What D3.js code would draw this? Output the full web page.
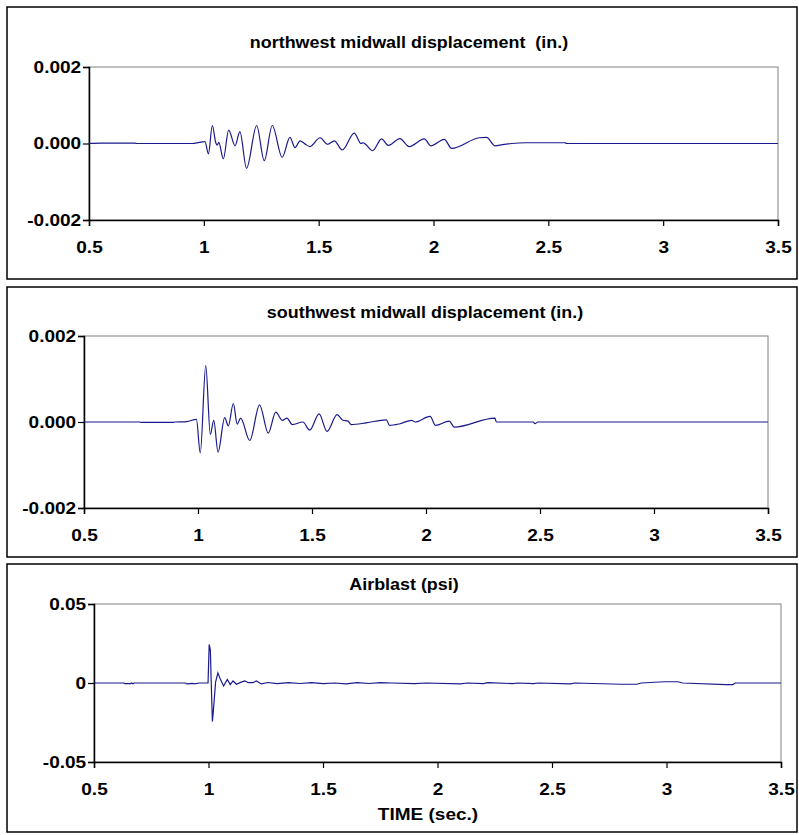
<!DOCTYPE html>
<html>
<head>
<meta charset="utf-8">
<script src="https://cdn.jsdelivr.net/npm/d3@7"></script>
<style>
  body { margin: 0; background: #fff; }
  text { font-family: "Liberation Sans", Arial, sans-serif; font-weight: bold; fill: #000; }
</style>
</head>
<body>
<svg id="chart" width="799" height="835"></svg>
<script>
// time axis shared by all three records
const timeTicks = [0.5, 1, 1.5, 2, 2.5, 3, 3.5];
const timeLabels = ["0.5", "1", "1.5", "2", "2.5", "3", "3.5"];

// northwest midwall displacement (in.)
const nwTime = [0.5, 0.55, 0.7, 0.71, 0.95, 0.98, 1.005, 1.02, 1.037, 1.052, 1.058, 1.065, 1.085, 1.108, 1.136, 1.157, 1.186, 1.23, 1.263, 1.298, 1.341, 1.375, 1.397, 1.419, 1.44, 1.462, 1.506, 1.539, 1.568, 1.603, 1.655, 1.684, 1.694, 1.704, 1.735, 1.774, 1.803, 1.854, 1.894, 1.96, 1.989, 2.047, 2.079, 2.2, 2.231, 2.268, 2.3, 2.34, 2.4, 2.572, 2.58, 3.5];
const nwDisp = [0, 0.00001, 0.00001, 0, 0, 0.00003, 0.00005, -0.00027, 0.00047, 0.00002, -0.00004, 0.00003, -0.0004, 0.00035, -0.00006, 0.00031, -0.00065, 0.00047, -0.00045, 0.00047, -0.00036, 0.00016, -0.00011, 0.00007, -0.00001, -0.00008, 0.00015, -0.00002, 0.00007, -0.00017, 0.00027, 0, 0.00002, -0.00002, -0.00019, 0.00012, -0.00005, 0.00013, -0.00008, 0.00012, -0.00006, 0.00011, -0.00013, 0.00015, 0.00016, -0.00006, -0.00003, 0, 0.00002, 0.00002, 0, 0];
const nwTicks = [-0.002, 0, 0.002];
const nwLabels = ["-0.002", "0.000", "0.002"];

// southwest midwall displacement (in.)
const swTime = [0.5, 0.744, 0.75, 0.89, 0.9, 0.95, 0.993, 1.01, 1.034, 1.054, 1.069, 1.088, 1.117, 1.133, 1.155, 1.172, 1.187, 1.227, 1.27, 1.308, 1.341, 1.37, 1.39, 1.414, 1.46, 1.49, 1.531, 1.566, 1.61, 1.636, 1.658, 1.672, 1.738, 1.826, 1.84, 1.886, 1.937, 1.952, 2.018, 2.042, 2.102, 2.124, 2.302, 2.309, 2.47, 2.478, 2.49, 3.5];
const swDisp = [0, 0, -0.00001, -0.00001, 0, 0.00001, 0.00006, -0.00072, 0.00131, -0.00029, 0.00004, -0.0007, 0.0001, -0.00009, 0.00043, -0.00005, 0.00009, -0.00043, 0.0004, -0.00026, 0.00023, 0.00004, 0.00009, -0.00006, 0, -0.00019, 0.00019, -0.00022, 0.00017, 0.00004, 0.00002, -0.00006, -0.00002, 0.00005, -0.00008, -0.00004, 0.00004, 0, 0.00013, -0.00008, 0.00002, -0.00012, 0.00009, 0, 0, -0.00004, 0, 0];
const swTicks = [-0.002, 0, 0.002];
const swLabels = ["-0.002", "0.000", "0.002"];

// airblast (psi)
const abTime = [0.5, 0.63, 0.635, 0.66, 0.665, 0.67, 0.675, 0.9, 0.905, 0.93, 0.94, 0.96, 0.998, 1.003, 1.008, 1.012, 1.017, 1.021, 1.031, 1.041, 1.052, 1.066, 1.082, 1.095, 1.107, 1.122, 1.14, 1.158, 1.175, 1.194, 1.209, 1.231, 1.26, 1.3, 1.35, 1.4, 1.45, 1.5, 1.55, 1.6, 1.65, 1.7, 1.75, 1.8, 1.9, 1.95, 2.1, 2.13, 2.2, 2.22, 2.33, 2.35, 2.42, 2.44, 2.58, 2.6, 2.8, 2.87, 2.89, 2.99, 3.05, 3.07, 3.26, 3.29, 3.3, 3.5];
const abPress = [0, 0, -0.0004, -0.0004, 0, -0.0005, 0, 0, -0.0006, -0.0003, -0.0006, 0, 0, 0.0244, 0.021, 0, -0.0244, -0.018, 0.0006, 0.0064, 0.0023, -0.0019, 0.0023, -0.001, 0.0013, -0.0008, 0.0004, 0.0013, 0.0002, 0.0002, 0.0013, -0.0006, 0.0003, -0.0004, 0.0002, -0.0003, 0.0002, -0.0004, 0, -0.0005, 0.0002, -0.0003, 0.0002, 0, -0.0004, 0, -0.0005, 0, -0.0004, 0.0002, -0.0004, 0, -0.0004, 0, -0.0006, 0, -0.0008, -0.0008, 0, 0.0008, 0.0008, 0, -0.001, -0.001, 0, 0];
const abTicks = [-0.05, 0, 0.05];
const abLabels = ["-0.05", "0", "0.05"];

const svg = d3.select("#chart");
const stretch = "scale(1.12,1)";   // text in the original is drawn a bit wide

// panel layout: frame box, plot area, text positions
const panels = [
  { title: "northwest midwall displacement  (in.)", t: nwTime, v: nwDisp, yTicks: nwTicks, yLabels: nwLabels,
    box: [7, 7, 797, 279], left: 89, right: 778, top: 67, bottom: 220, titleX: 409, titleY: 48,
    curve: d3.curveMonotoneX },
  { title: "southwest midwall displacement (in.)", t: swTime, v: swDisp, yTicks: swTicks, yLabels: swLabels,
    box: [7, 287, 797, 557], left: 84, right: 768, top: 336, bottom: 508, titleX: 425, titleY: 318,
    curve: d3.curveMonotoneX },
  { title: "Airblast (psi)", t: abTime, v: abPress, yTicks: abTicks, yLabels: abLabels,
    box: [7, 564, 797, 832], left: 94, right: 781, top: 604, bottom: 762, titleX: 404, titleY: 590,
    curve: d3.curveLinear, xTitle: "TIME (sec.)", xTitleX: 428, xTitleY: 820 }
];

panels.forEach(function(p) {
  const g = svg.append("g");

  // outer frame
  g.append("rect")
    .attr("x", p.box[0]).attr("y", p.box[1])
    .attr("width", p.box[2] - p.box[0]).attr("height", p.box[3] - p.box[1])
    .attr("fill", "#fff").attr("stroke", "#000").attr("stroke-width", 1.5);

  const x = d3.scaleLinear().domain([0.5, 3.5]).range([p.left, p.right]);
  const y = d3.scaleLinear().domain([p.yTicks[0], p.yTicks[2]]).range([p.bottom, p.top]);

  // plot area border (top/right grey)
  g.append("rect")
    .attr("x", p.left).attr("y", p.top)
    .attr("width", p.right - p.left).attr("height", p.bottom - p.top)
    .attr("fill", "none").attr("stroke", "#808080").attr("stroke-width", 1);

  // axes
  const xAx = g.append("g")
    .attr("transform", "translate(0," + p.bottom + ")")
    .call(d3.axisBottom(x).tickValues(timeTicks).tickSize(6).tickPadding(15)
      .tickFormat(function(d, i) { return timeLabels[i]; }));
  const yAx = g.append("g")
    .attr("transform", "translate(" + p.left + ",0)")
    .call(d3.axisLeft(y).tickValues(p.yTicks).tickSize(6).tickPadding(1)
      .tickFormat(function(d, i) { return p.yLabels[i]; }));

  [xAx, yAx].forEach(function(a) {
    a.select(".domain").attr("stroke", "#000").attr("stroke-width", 1.5);
    a.selectAll(".tick line").attr("stroke", "#000").attr("stroke-width", 1.2);
    a.selectAll("text").style("font-size", "17px").style("font-family", "Liberation Sans, Arial, sans-serif")
      .style("font-weight", "bold").attr("fill", "#000").attr("transform", stretch);
  });

  // the record
  const line = d3.line()
    .x(function(d, i) { return x(p.t[i]); })
    .y(function(d) { return y(d); })
    .curve(p.curve);

  g.append("path")
    .datum(p.v)
    .attr("d", line)
    .attr("fill", "none")
    .attr("stroke", "#1a1a8c")
    .attr("stroke-width", 1.2);

  g.append("text")
    .attr("transform", "translate(" + p.titleX + "," + p.titleY + ") " + stretch)
    .attr("text-anchor", "middle")
    .attr("xml:space", "preserve")
    .style("white-space", "pre")
    .style("font-size", "16px")
    .text(p.title);

  if (p.xTitle) {
    g.append("text")
      .attr("transform", "translate(" + p.xTitleX + "," + p.xTitleY + ") " + stretch)
      .attr("text-anchor", "middle")
      .style("font-size", "17px")
      .text(p.xTitle);
  }
});
</script>
</body>
</html>
